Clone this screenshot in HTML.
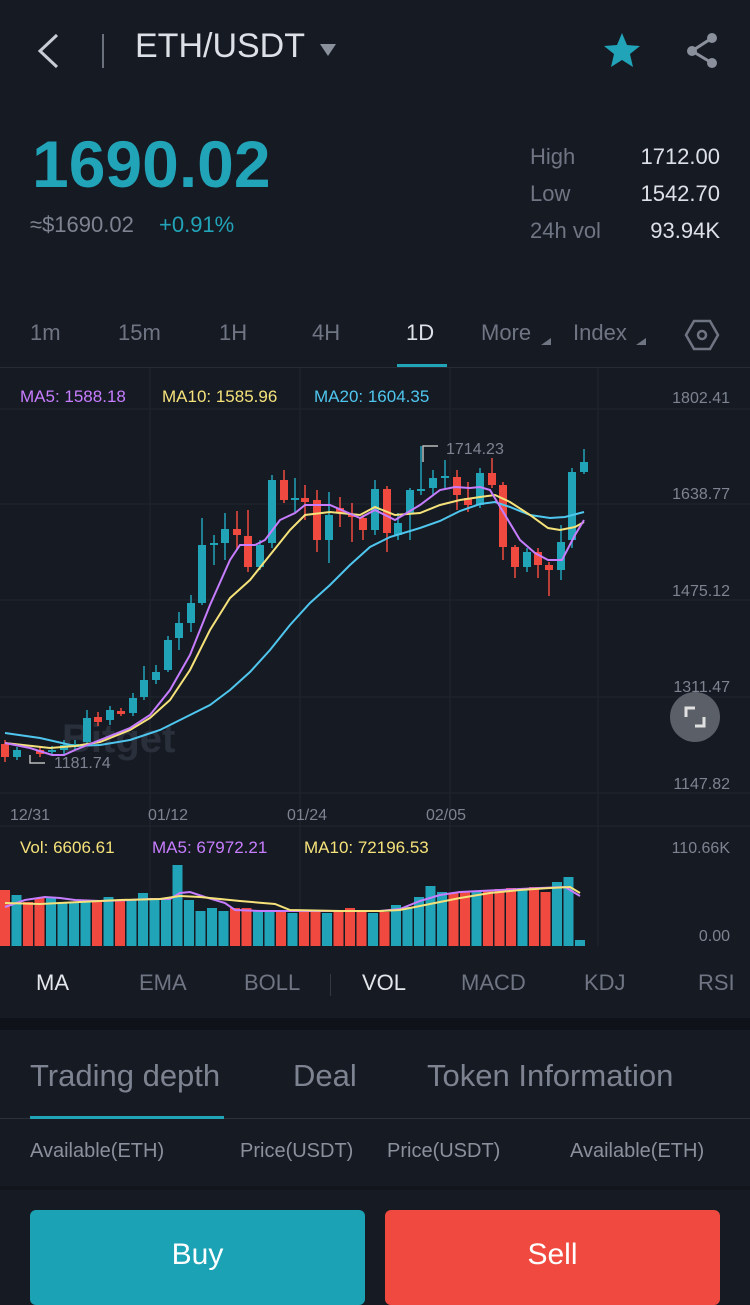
<!DOCTYPE html>
<html><head><meta charset="utf-8"><style>
*{margin:0;padding:0;box-sizing:border-box}
body{width:750px;height:1300px;background:#161a23;font-family:"Liberation Sans",sans-serif;position:relative;overflow:hidden;color:#8a909c}
.a{position:absolute;white-space:nowrap}
</style></head><body>
<svg class="a" style="left:0;top:0" width="750" height="100">
<polyline points="57,35 40,51 57,67" fill="none" stroke="#c8ccd4" stroke-width="3"/>
<line x1="103" y1="34" x2="103" y2="68" stroke="#6a707c" stroke-width="2"/>
<polygon points="320,44 336,44 328,56" fill="#8a909c"/>
<polygon points="622,33 627,45 640,46 630,54 633,67 622,60 611,67 614,54 604,46 617,45" fill="#21a3b8"/>
<circle cx="712" cy="38" r="5" fill="#8a909c"/><circle cx="692" cy="51" r="5" fill="#8a909c"/><circle cx="712" cy="63" r="5" fill="#8a909c"/>
<polyline points="712,38 692,51 712,63" fill="none" stroke="#8a909c" stroke-width="3"/>
</svg>
<div class="a" style="left:135px;top:27px;font-size:34px;color:#dde0e6">ETH/USDT</div>
<div class="a" style="left:32px;top:126px;font-size:66px;font-weight:bold;color:#21a3b8;letter-spacing:0px">1690.02</div>
<div class="a" style="left:30px;top:212px;font-size:22px;color:#7d8390">≈$1690.02</div>
<div class="a" style="left:159px;top:212px;font-size:22px;color:#21a3b8">+0.91%</div>
<div class="a" style="left:530px;top:144px;font-size:22px;color:#6f7583">High</div>
<div class="a" style="left:530px;top:181px;font-size:22px;color:#6f7583">Low</div>
<div class="a" style="left:530px;top:218px;font-size:22px;color:#6f7583">24h vol</div>
<div class="a" style="right:30px;top:144px;font-size:22px;color:#dde0e6">1712.00</div>
<div class="a" style="right:30px;top:181px;font-size:22px;color:#dde0e6">1542.70</div>
<div class="a" style="right:30px;top:218px;font-size:22px;color:#dde0e6">93.94K</div>
<div class="a" style="left:30px;top:320px;font-size:22px;color:#6f7583">1m</div>
<div class="a" style="left:118px;top:320px;font-size:22px;color:#6f7583">15m</div>
<div class="a" style="left:219px;top:320px;font-size:22px;color:#6f7583">1H</div>
<div class="a" style="left:312px;top:320px;font-size:22px;color:#6f7583">4H</div>
<div class="a" style="left:406px;top:320px;font-size:22px;color:#dde0e6">1D</div>
<div class="a" style="left:481px;top:320px;font-size:22px;color:#6f7583">More</div>
<div class="a" style="left:573px;top:320px;font-size:22px;color:#6f7583">Index</div>
<svg class="a" style="left:0;top:300px" width="750" height="70">
<polygon points="541,45 551,45 551,38" fill="#6f7583"/><polygon points="636,45 646,45 646,38" fill="#6f7583"/>
<polygon points="694,21 710,21 718,35 710,49 694,49 686,35" fill="none" stroke="#6f7583" stroke-width="2.5"/>
<circle cx="702" cy="35" r="4" fill="none" stroke="#6f7583" stroke-width="2.5"/>
<rect x="397" y="64" width="50" height="3" fill="#21a3b8"/>
<line x1="0" y1="67.5" x2="750" y2="67.5" stroke="#262b36"/>
</svg>
<svg class="a" style="left:0;top:0" width="750" height="950">
<g stroke="#20252f" stroke-width="1">
<line x1="0" y1="409" x2="750" y2="409"/><line x1="0" y1="504" x2="750" y2="504"/><line x1="0" y1="600" x2="750" y2="600"/><line x1="0" y1="697" x2="750" y2="697"/><line x1="0" y1="793" x2="750" y2="793"/>
<line x1="150" y1="368" x2="150" y2="946"/><line x1="300" y1="368" x2="300" y2="946"/><line x1="450" y1="368" x2="450" y2="946"/><line x1="598" y1="368" x2="598" y2="946"/>
<line x1="0" y1="826" x2="750" y2="826"/>
</g>
<text x="62" y="752" font-size="40" font-weight="bold" fill="#2a303b" font-family="Liberation Sans">Bitget</text>
<g font-family="Liberation Sans" font-size="16" fill="#7d8390" text-anchor="end">
<text x="730" y="403">1802.41</text><text x="730" y="499">1638.77</text><text x="730" y="596">1475.12</text><text x="730" y="692">1311.47</text><text x="730" y="789">1147.82</text>
<text x="730" y="853">110.66K</text><text x="730" y="941">0.00</text>
</g>
<g font-family="Liberation Sans" font-size="16" fill="#7d8390">
<text x="10" y="820">12/31</text><text x="148" y="820">01/12</text><text x="287" y="820">01/24</text><text x="426" y="820">02/05</text>
<text x="446" y="454">1714.23</text><text x="54" y="768">1181.74</text>
</g>
<polyline points="438,446 423,446 423,462" fill="none" stroke="#bbb" stroke-width="1.5"/>
<polyline points="30,755 30,763 45,763" fill="none" stroke="#bbb" stroke-width="1.5"/>
<g font-family="Liberation Sans" font-size="17">
<text x="20" y="402" fill="#c77dff">MA5: 1588.18</text><text x="162" y="402" fill="#f5e27a">MA10: 1585.96</text><text x="314" y="402" fill="#4fc6ee">MA20: 1604.35</text>
<text x="20" y="853" fill="#f5e27a">Vol: 6606.61</text><text x="152" y="853" fill="#c77dff">MA5: 67972.21</text><text x="304" y="853" fill="#f5e27a">MA10: 72196.53</text>
</g>
<g id="c"></g>
<g fill="none" stroke-width="2">
<polyline stroke="#4fc6ee" points="5,733 40,738 75,746 100,745 130,740 160,730 190,715 210,705 230,690 250,672 270,650 290,625 310,603 330,585 350,565 370,547 390,537 420,528 440,521 460,511 480,504 495,502 510,507 530,515 550,518 565,517 584,512"/>
<polyline stroke="#f5e27a" points="5,743 50,748 75,746 100,742 130,730 150,718 170,700 190,670 210,630 230,598 250,580 270,555 290,530 305,515 330,512 360,515 375,507 395,515 420,513 440,505 460,500 480,497 495,495 510,502 530,515 548,528 560,530 575,527 584,522"/>
<polyline stroke="#c77dff" points="5,743 30,748 52,755 64,755 75,750 100,740 130,728 150,715 170,690 190,655 210,605 230,560 240,545 255,545 265,540 280,520 295,513 305,505 330,505 360,518 375,510 395,520 420,505 440,490 455,487 470,488 480,487 490,490 505,515 520,540 535,553 548,560 562,560 575,535 584,520"/>
</g>
<g id="v"></g>
<g fill="none" stroke-width="2">
<polyline stroke="#c77dff" points="5,907 25,900 45,897 60,898 75,900 100,901 130,900 150,899 170,899 180,893 190,892 205,897 225,903 235,910 260,911 300,911 340,911 380,911 400,909 420,901 440,895 460,892 480,891 500,890 520,889 540,888 565,887 580,896"/>
<polyline stroke="#f5e27a" points="5,903 40,904 80,902 120,900 160,899 180,896 200,897 240,901 275,904 290,910 340,911 380,911 400,910 430,904 460,898 490,893 520,890 550,888 570,887 580,893"/>
</g>
<circle cx="695" cy="717" r="25" fill="#5a5f68"/>
<polyline points="686,717 686,708 695,708" fill="none" stroke="#e0e0e0" stroke-width="3"/>
<polyline points="704,717 704,726 695,726" fill="none" stroke="#e0e0e0" stroke-width="3"/>
</svg>
<div class="a" style="left:0;top:946px;width:750px;height:72px;background:#161a23"></div>
<div class="a" style="left:0;top:1018px;width:750px;height:12px;background:#0f1218"></div>
<div class="a" style="left:36px;top:970px;font-size:22px;color:#e3e6ea">MA</div>
<div class="a" style="left:139px;top:970px;font-size:22px;color:#6f7583">EMA</div>
<div class="a" style="left:244px;top:970px;font-size:22px;color:#6f7583">BOLL</div>
<div class="a" style="left:330px;top:974px;width:1px;height:22px;background:#333843"></div>
<div class="a" style="left:362px;top:970px;font-size:22px;color:#e3e6ea">VOL</div>
<div class="a" style="left:461px;top:970px;font-size:22px;color:#6f7583">MACD</div>
<div class="a" style="left:584px;top:970px;font-size:22px;color:#6f7583">KDJ</div>
<div class="a" style="left:698px;top:970px;font-size:22px;color:#6f7583">RSI</div>
<div class="a" style="left:30px;top:1058px;font-size:31px;color:#7d8390">Trading depth</div>
<div class="a" style="left:293px;top:1058px;font-size:31px;color:#7d8390">Deal</div>
<div class="a" style="left:427px;top:1058px;font-size:31px;color:#7d8390">Token Information</div>
<div class="a" style="left:0;top:1118px;width:750px;height:1px;background:#2b303a"></div>
<div class="a" style="left:30px;top:1116px;width:194px;height:3px;background:#21a3b8"></div>
<div class="a" style="left:30px;top:1140px;font-size:20px;color:#8a909c">Available(ETH)</div>
<div class="a" style="left:240px;top:1140px;font-size:20px;color:#8a909c">Price(USDT)</div>
<div class="a" style="left:387px;top:1140px;font-size:20px;color:#8a909c">Price(USDT)</div>
<div class="a" style="left:570px;top:1140px;font-size:20px;color:#8a909c">Available(ETH)</div>
<div class="a" style="left:0;top:1186px;width:750px;height:4px;background:#12151c"></div>
<div class="a" style="left:30px;top:1210px;width:335px;height:95px;background:#1ba2b5;border-radius:6px;color:#fff;font-size:30px;text-align:center;line-height:90px">Buy</div>
<div class="a" style="left:385px;top:1210px;width:335px;height:95px;background:#f04a40;border-radius:6px;color:#fff;font-size:30px;text-align:center;line-height:90px">Sell</div>
<script>
var T="#21a3b8",R="#f04a40";
var d=[[5,'r',744,757,740,762],[17,'t',750,757,747,760],[40,'r',750,754,746,757],[52,'t',750,752,746,755],[64,'t',745,750,740,755],[75,'t',744,747,740,750],[87,'t',718,742,710,745],[98,'r',717,722,712,726],[110,'t',710,720,706,725],[121,'r',711,714,708,716],[133,'t',698,713,693,716],[144,'t',680,697,666,700],[156,'t',672,680,665,684],[168,'t',640,670,636,672],[179,'t',623,638,612,650],[191,'t',603,623,595,632],[202,'t',545,603,518,605],[214,'t',543,545,535,565],[225,'t',529,543,513,560],[237,'r',529,535,511,550],[248,'r',536,567,510,572],[260,'t',545,567,540,570],[272,'t',480,543,475,548],[284,'r',480,500,470,503],[295,'t',498,500,478,512],[305,'r',498,502,485,520],[317,'r',500,540,490,552],[329,'t',515,540,492,563],[340,'r',508,513,497,527],[352,'r',514,517,503,542],[363,'r',518,530,515,540],[375,'t',489,530,480,535],[387,'r',489,533,486,552],[398,'t',523,535,513,540],[410,'t',490,513,488,540],[421,'t',489,491,446,495],[433,'t',478,488,470,495],[445,'t',476,478,460,488],[457,'r',477,495,470,510],[468,'r',498,505,482,512],[480,'t',473,505,468,508],[492,'r',473,485,458,488],[503,'r',485,547,482,560],[515,'r',547,567,545,578],[527,'t',552,567,548,572],[538,'r',552,565,548,578],[549,'r',565,570,562,596],[561,'t',542,570,525,580],[572,'t',472,540,468,548],[584,'t',462,472,449,474]];
var s="";d.forEach(function(c){var col=c[1]=='t'?T:R;s+='<line x1="'+c[0]+'" x2="'+c[0]+'" y1="'+c[4]+'" y2="'+c[5]+'" stroke="'+col+'" stroke-width="1.5"/><rect x="'+(c[0]-4)+'" y="'+c[2]+'" width="8" height="'+Math.max(2,c[3]-c[2])+'" fill="'+col+'"/>';});
document.getElementById('c').innerHTML=s;
var vt=[890,895,902,898,898,902,903,902,902,897,900,900,893,900,900,865,900,911,908,911,908,908,910,910,910,913,912,912,913,910,908,910,913,912,905,907,897,886,892,893,891,891,891,889,888,888,887,892,882,877,940];
var vc="rtrrttttrtrttttttttttrrttrtrrtrrrtrttttttrrtrrrtrrtt".split("");
vc=["r","t","r","r","t","t","t","t","r","t","r","t","t","t","t","t","t","t","t","t","r","r","t","t","r","t","r","r","t","r","r","r","t","r","t","t","t","t","t","r","r","t","r","r","r","t","r","r","t","t","t"];
var v="",w=11.5;vt.forEach(function(y,i){v+='<rect x="'+(i*w).toFixed(1)+'" y="'+y+'" width="10" height="'+(946-y)+'" fill="'+(vc[i]=='r'?R:T)+'"/>';});
document.getElementById('v').innerHTML=v;
</script>
</body></html>
